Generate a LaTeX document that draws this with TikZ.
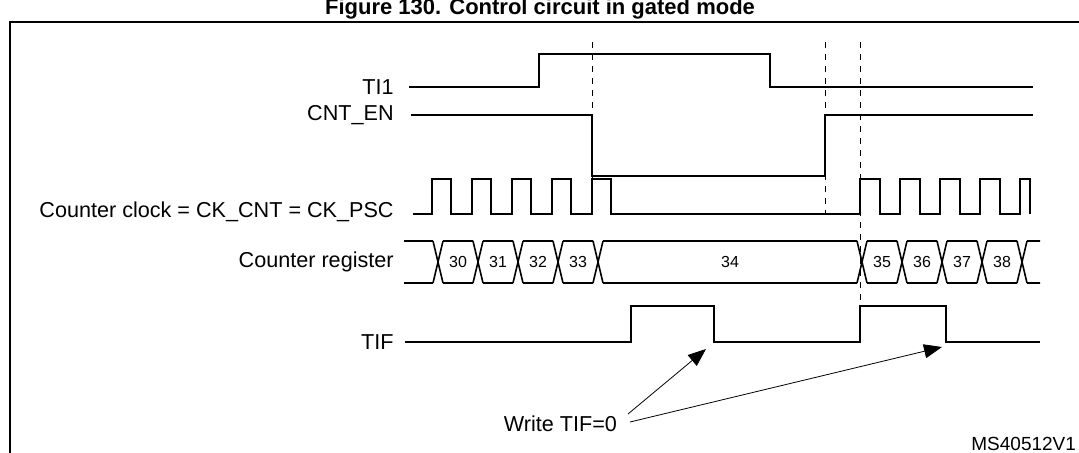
\documentclass[tikz,border=0pt]{standalone}
\usepackage{fontspec}
\setmainfont{Liberation Sans}
\usetikzlibrary{arrows.meta,positioning}

\begin{document}
\begin{tikzpicture}[x=0.5pt,y=-0.5pt,
    wave/.style={line width=0.8pt},
    guide/.style={dashed, line width=0.5pt},
    siglabel/.style={anchor=east, font=\fontsize{10.8}{12}\selectfont, inner sep=1pt},
    regval/.style={font=\fontsize{8}{9}\selectfont},
    note/.style={-{Triangle[length=9pt,width=7pt]}, line width=0.4pt}]
    \useasboundingbox (0,0) rectangle (1079,453);

    % Title and frame
    \node[font=\bfseries\fontsize{11}{12}\selectfont] (title) at (540,9) {Figure 130. Control circuit in gated mode};
    \draw[line width=1pt] (10,460) -- (10,22) -- (1085,22);

    % Guide lines
    \draw[guide] (592,42) -- (592,205);
    \draw[guide] (825,42) -- (825,215);
    \draw[guide] (860,42) -- (860,306);

    % TI1
    \node[siglabel] (ti1) at (396,87) {TI1};
    \draw[wave] (ti1.east) ++(13,0) -- (539,87) -- (539,54) -- (770,54) -- (770,87) -- (1033,87);

    % CNT_EN
    \node[siglabel] (cnten) at (396,115) {CNT\_EN};
    \draw[wave] (cnten.east) ++(15,0) -- (592,115) -- (592,176) -- (825,176) -- (825,115) -- (1033,115);

    % Counter clock
    \node[siglabel] (clk) at (396,212) {Counter clock = CK\_CNT = CK\_PSC};
    \draw[wave] (413,214) \foreach \t in {432,472,512,552,592} {
        -- (\t,214) -- (\t,179) -- (\t+19,179) -- (\t+19,214)}
        -- (860,214) \foreach \t in {860,900,940,980} {
        -- (\t,214) -- (\t,179) -- (\t+20,179) -- (\t+20,214)}
        -- (1020,214) -- (1020,179) -- (1030,179) -- (1030,214);

    % Counter register
    \node[siglabel] (reg) at (396,262) {Counter register};
    \draw[wave] (404,241) -- (433,241) (404,283) -- (433,283);
    \foreach \a/\b in {438/478,478/518,518/558,558/598,598/862,862/902,902/942,942/982,982/1022} {
        \draw[wave] (\a-5,241) -- (\a+5,283) (\a-5,283) -- (\a+5,241)
            (\a+5,241) -- (\b-5,241) (\a+5,283) -- (\b-5,283);
    }
    \draw[wave] (1017,241) -- (1027,283) (1017,283) -- (1027,241)
        (1027,241) -- (1040,241) (1027,283) -- (1040,283);
    \foreach \v/\x in {30/458,31/498,32/538,33/578,34/730,35/882,36/922,37/962,38/1002}
        \node[regval] (r\v) at (\x,262) {\v};

    % TIF
    \node[siglabel] (tif) at (396,342) {TIF};
    \draw[wave] (tif.east) ++(9,0) -- (631,342) -- (631,306) -- (714,306) -- (714,342)
        -- (860,342) -- (860,306) -- (946,306) -- (946,342) -- (1040,342);

    % Write TIF=0 notes
    \node[font=\fontsize{10.8}{12}\selectfont, anchor=east] (wr) at (624,424) {Write TIF=0};
    \coordinate (clr1) at (706,349);
    \coordinate (clr2) at (942,347);
    \draw[note] (wr.east) ++(4,-10) -- (clr1);
    \draw[note] (wr.east) ++(6,-2) -- (clr2);

    \node[font=\fontsize{9.5}{11}\selectfont, anchor=east] (code) at (1083,444) {MS40512V1};
\end{tikzpicture}
\end{document}
